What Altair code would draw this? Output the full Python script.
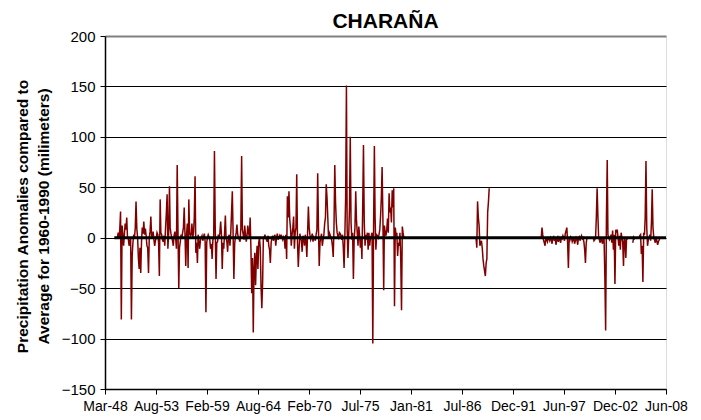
import altair as alt
import pandas as pd

# ---------------- data ----------------
chart_title = "CHARAÑA"
y_title = ["Precipitation Anomalies compared to", "Average for 1960-1990 (milimeters)"]

# x-axis tick dates (labels shown as Mon-YY)
tick_dates = ["1948-03-10", "1953-08-31", "1959-02-21", "1964-08-13", "1970-02-03",
              "1975-07-27", "1981-01-16", "1986-07-09", "1991-12-30", "1997-06-21",
              "2002-12-11", "2008-06-03"]
y_ticks = [-150, -100, -50, 0, 50, 100, 150, 200]

# monthly anomalies (mm); each run of data starts at (year, month)
run1_start = (1949, 7)
run1 = [0, 5, 0, 8, 26, -81, 12, 2, -8, 4, 14, 8,
        20, 0, -1, -8, -3, 0, -81, -17, -5, 3, 0, 10,
        36, 9, 0, -20, -31, -10, -35, -4, 10, 4, 16, 3,
        9, 2, -8, -10, -35, 0, 6, 21, 2, 0, 6, -2,
        -8, -3, 0, 5, 3, -5, -38, 38, 5, 3, -2, -4,
        2, -8, 10, 24, 43, -11, 5, 51, 10, 4, 0, -3,
        -8, 2, 6, 0, -11, 72, 8, -50, -10, -4, 3, 0,
        5, 10, 30, 4, -28, 3, 14, -30, 38, 5, 2, 3,
        14, 0, 5, 20, 61, -15, -5, -25, 3, -4, -11, -2,
        0, 2, -3, 1, 4, -4, -74, -5, 0, 3, 1, -2,
        -11, -6, -21, -2, 0, 86, 10, -41, -5, -4, 3, 0,
        5, 16, 3, -31, -5, -11, 5, 22, 0, -4, -14, 1,
        3, -8, 5, 25, 46, 5, -41, -6, 0, 5, 13, 3,
        0, -2, -4, 10, 81, 8, 3, -2, 12, 3, -4, 2,
        12, 5, 0, 20, -11, -55, -20, -94, -31, -15, -47, -20,
        -8, -31, -5, 0, -10, -48, -70, -45, -2, 0, 3, 0,
        -2, -4, 2, -8, -12, -25, -5, 0, 2, -3, 1, 3,
        -8, 0, 4, -2, 0, 2, -1, 3, 0, -2, 1, 0,
        -11, 3, -21, 41, 20, 46, 18, 9, -8, 3, 10, 21,
        -11, 5, 10, 63, -5, -29, -11, 4, 0, -3, -14, 2,
        0, -8, 3, -4, -19, 5, 31, 10, 3, -2, 0, 4,
        -4, 1, 0, -3, 3, 8, 64, 10, -28, -5, 0, 4,
        -8, -2, 3, 14, 20, 53, 40, 20, 0, 5, 3, 0,
        -2, -8, -19, 10, 72, 35, 15, 5, 2, 0, 5, 4,
        2, -2, 3, -10, -30, 2, 40, 151, 10, -20, 2, 30,
        100, 15, -2, 5, -41, -2, 10, 46, 18, 5, -8, 11,
        3, -10, 0, -21, 30, 92, 15, -8, 3, -2, 5, -12,
        5, -8, 0, 2, 5, -105, 10, 91, 20, -12, 3, 2,
        0, 3, 8, 21, 40, 70, 20, -52, 12, 5, 2, 8,
        19, 5, 44, 25, 30, 15, 47, 30, 49, -68, 10, 2,
        5, -18, -5, -8, 5, -20, -72, 11, 5, 0]

run2_start = (1988, 1)
run2 = [0, -10, 36, 20, 12, -8, -5, -3, -10, -21, -28, -33, -38, -25, -21, 25, 35, 49]

run3_start = (1995, 1)
run3 = [0, 10, 3, -2, -5, -8, 0, -2, -4, 0, -1, -3, 0, -2, -6, 0, 1, -3, 0, -7,
        -2, 0, -4, 0, -2, -5, 0, -1, 2, 0, -3, 4, 7, 10, -5, -30, 0, -2, 1, 0,
        -4, -2, 0, -6, -3, 0, -2, -7, 0, 1, -3, 0, 2, -1, 0, -4, -12, -25, -5, 0]

run4_start = (2000, 8)
run4 = [0, -3, -2, 0, 20, 49, 21, 0, -2, -5, 0, -3, -6, 0, -2, -40, -92, 20, 77, 3,
        0, -2, 0, 3, -5, 7, -12, 3, -46, 8, 5, 8, 0, -8, 2, -12, 5, 0, -4, -28,
        0, -3, -20, 0, -2]

run5_start = (2004, 11)
run5 = [-5, 0, -2]

run6_start = (2005, 7)
run6 = [0, 2, 3, -16, -8, -44, 5, 3, 20, 76, 10, -8, -2, 0, 3, -3, 15, 48, 10, 0,
        -2, -5, 0, -3, -7, -4, -2, 0]

zero_dates = ["1949-03-10", "2008-06-03"]
zero_values = [0, 0]

# ---------------- build table ----------------
rows = []
for k, (start, vals) in enumerate([(run1_start, run1), (run2_start, run2), (run3_start, run3),
                                   (run4_start, run4), (run5_start, run5), (run6_start, run6)]):
    y0, m0 = start
    for j, v in enumerate(vals):
        idx = (m0 - 1) + j
        rows.append({"date": f"{y0 + idx // 12:04d}-{idx % 12 + 1:02d}-10",
                     "value": v, "run": k})
df = pd.DataFrame(rows)
zero_df = pd.DataFrame({"date": zero_dates, "value": zero_values})


def dt(s):
    y, m, d = (int(p) for p in s.split("-"))
    return alt.DateTime(year=y, month=m, date=d, utc=True)


FONT = "Liberation Sans"

x_enc = alt.X(
    "date:T",
    scale=alt.Scale(type="utc", domain=[dt(tick_dates[0]), dt(tick_dates[-1])]),
    axis=alt.Axis(values=[dt(s) for s in tick_dates],
                  labelExpr="utcFormat(datum.value, '%b-%y')",
                  title=None, grid=False, domainColor="black", domainWidth=1.5,
                  tickColor="black", tickSize=5, labelFont=FONT, labelFontSize=14,
                  labelColor="black", labelPadding=5, labelAngle=0, labelOverlap=False,
                  labelFlush=False),
)
y_enc = alt.Y(
    "value:Q",
    scale=alt.Scale(domain=[-150, 200], nice=False, zero=False),
    axis=alt.Axis(values=y_ticks, title=y_title, titleFont=FONT, titleFontSize=15.5,
                  titleFontWeight="bold", titleColor="black", titleLineHeight=21,
                  titleAngle=-90, titleX=-83, titleY=180, titleAlign="center",
                  titleBaseline="middle",
                  grid=True,
                  gridColor=alt.condition("datum.value == 200", alt.value("#808080"), alt.value("black")),
                  gridWidth=alt.condition("datum.value == 200", alt.value(2), alt.value(1)),
                  domainColor="black", domainWidth=1.5, tickColor="black", tickSize=5,
                  labelFont=FONT, labelFontSize=15, labelColor="black", labelPadding=5),
)

anom = alt.Chart(df).mark_line(color="#800000", strokeWidth=1.5).encode(
    x=x_enc, y=y_enc, detail="run:N"
)
zero = alt.Chart(zero_df).mark_line(color="black", strokeWidth=3).encode(
    x="date:T", y="value:Q"
)

chart = alt.layer(anom, zero).properties(
    width=561, height=353,
    title=alt.TitleParams(chart_title, font=FONT, fontSize=21, fontWeight="bold",
                          color="black", anchor="middle", offset=9, dy=12),
    autosize=alt.AutoSizeParams(type="none"),
    padding={"left": 97, "top": 28, "right": 27, "bottom": 28},
).configure_view(stroke="#808080", strokeWidth=1.5).configure(background="white")

chart.save("out.html", embed_options={"renderer": "svg", "actions": False})
